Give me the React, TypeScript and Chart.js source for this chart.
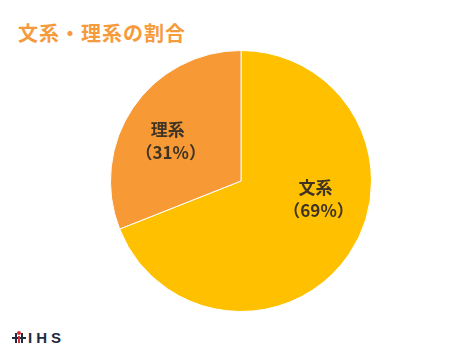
import React, { useEffect, useRef } from "react";
import { Chart, registerables } from "chart.js";

Chart.register(...registerables);

const titleText = "文系・理系の割合";
const categories = ["文系", "理系"];
const shares = [69, 31];
const sliceColors = ["#FFC000", "#F79A36"];
// label placement inside each slice: fraction of the slice's angle span, fraction of radius
const labelAngleFrac = [0.415, 0.46];
const labelRadiusFrac = [0.61, 0.62];

const labelPlugin = {
  id: "sliceLabels",
  afterDatasetsDraw(chart: any) {
    const meta = chart.getDatasetMeta(0);
    const ctx = chart.ctx;
    ctx.save();
    ctx.fillStyle = "#3f3424";
    ctx.textAlign = "center";
    ctx.textBaseline = "middle";
    ctx.font = "bold 17px 'Noto Sans CJK JP', 'Noto Sans', sans-serif";
    meta.data.forEach((arc: any, i: number) => {
      const p = arc.getProps(["x", "y", "startAngle", "endAngle", "outerRadius"], true);
      const a = p.startAngle + (p.endAngle - p.startAngle) * labelAngleFrac[i];
      const r = p.outerRadius * labelRadiusFrac[i];
      const cx = p.x + Math.cos(a) * r;
      const cy = p.y + Math.sin(a) * r;
      ctx.fillText(categories[i], cx - 3, cy - 11);
      ctx.fillText("（" + shares[i] + "%）", cx, cy + 12);
    });
    ctx.restore();
  },
};

export default function App() {
  const ref = useRef<HTMLCanvasElement>(null);
  useEffect(() => {
    const chart = new Chart(ref.current!, {
      type: "pie",
      data: {
        labels: categories,
        datasets: [
          {
            data: shares,
            backgroundColor: sliceColors,
            borderColor: "#ffffff",
            borderWidth: 1,
          },
        ],
      },
      options: {
        animation: false,
        responsive: false,
        maintainAspectRatio: false,
        layout: { padding: 0 },
        plugins: {
          legend: { display: false },
          tooltip: { enabled: false },
          title: { display: false },
        },
      },
      plugins: [labelPlugin],
    });
    return () => chart.destroy();
  }, []);

  return (
    <div
      style={{
        position: "fixed",
        left: 0,
        top: 0,
        width: 470,
        height: 353,
        background: "#ffffff",
        overflow: "hidden",
      }}
    >
      <div
        style={{
          position: "absolute",
          left: 18,
          top: 19,
          fontFamily: "'Noto Sans CJK JP', sans-serif",
          fontWeight: 700,
          fontSize: 20,
          lineHeight: "28px",
          color: "#F59B3C",
          letterSpacing: 1,
          whiteSpace: "nowrap",
        }}
      >
        {titleText}
      </div>
      <canvas
        ref={ref}
        width={262}
        height={262}
        style={{ position: "absolute", left: 110, top: 50, width: 262, height: 262 }}
      />
      <div
        style={{
          position: "absolute",
          left: 12,
          top: 328,
          height: 18,
          display: "flex",
          alignItems: "center",
        }}
      >
        <div style={{ position: "relative", width: 14, height: 12, marginRight: 2 }}>
          <div style={{ position: "absolute", left: 0, top: 6, width: 14, height: 2, background: "#1f2a44" }} />
          <div style={{ position: "absolute", left: 3, top: 2, width: 2, height: 10, background: "#1f2a44" }} />
          <div style={{ position: "absolute", left: 9, top: 2, width: 2, height: 10, background: "#1f2a44" }} />
          <div style={{ position: "absolute", left: 5, top: 0, width: 4, height: 4, borderRadius: 2, background: "#d9302c" }} />
          <div style={{ position: "absolute", left: 6, top: 5, width: 2, height: 7, background: "#d9302c" }} />
        </div>
        <span
          style={{
            fontFamily: "'Liberation Sans', Arial, sans-serif",
            fontWeight: 700,
            fontSize: 15,
            color: "#1f2a44",
            letterSpacing: 4,
          }}
        >
          IHS
        </span>
      </div>
    </div>
  );
}
